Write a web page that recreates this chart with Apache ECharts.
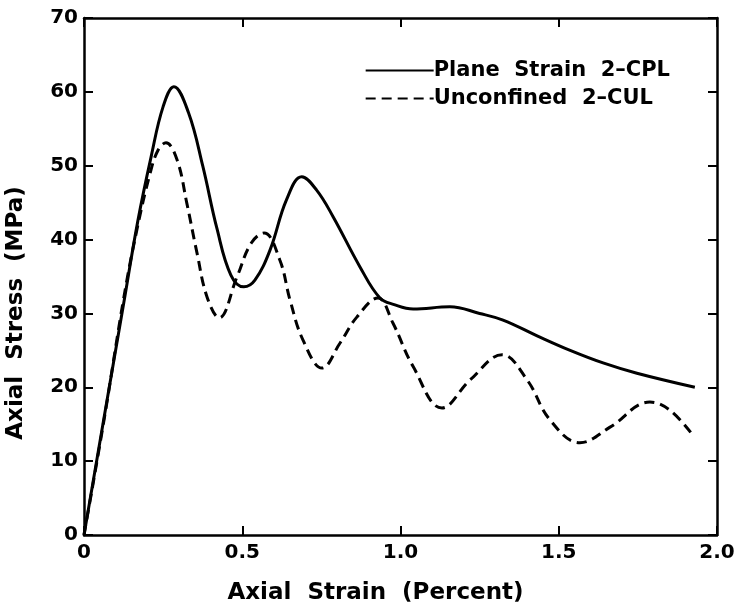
<!DOCTYPE html>
<html><head><meta charset="utf-8">
<script src="https://cdn.jsdelivr.net/npm/echarts@6/dist/echarts.min.js"></script>
<style>html,body{margin:0;padding:0;background:#fff}#c{width:738px;height:614px}</style>
</head><body><div id="c"></div>
<script>
var xTicks = [0, 0.5, 1.0, 1.5, 2.0];
var yTicks = [0, 10, 20, 30, 40, 50, 60, 70];
var planeX = [0, 0.063, 0.126, 0.17, 0.212, 0.25, 0.284, 0.33, 0.375, 0.42, 0.464, 0.505, 0.54, 0.588, 0.64, 0.688, 0.735, 0.787, 0.872, 0.935, 0.98, 1.04, 1.156, 1.25, 1.324, 1.43, 1.536, 1.64, 1.747, 1.93];
var planeY = [0, 15.8, 31.5, 42.5, 51.2, 58, 60.7, 57.2, 50, 41.5, 35.2, 33.6, 34.5, 38.6, 45.4, 48.5, 46.7, 43.1, 36.3, 32.1, 31.2, 30.6, 30.9, 30.0, 29.1, 27, 25.0, 23.3, 21.9, 20.0];
var unconfX = [0, 0.063, 0.126, 0.167, 0.209, 0.235, 0.259, 0.294, 0.325, 0.357, 0.389, 0.427, 0.483, 0.528, 0.569, 0.619, 0.651, 0.692, 0.752, 0.809, 0.862, 0.929, 0.976, 1.04, 1.131, 1.22, 1.321, 1.40, 1.472, 1.567, 1.662, 1.788, 1.851, 1.924];
var unconfY = [0, 15.5, 32.2, 41.3, 49, 52.2, 53.1, 50.8, 44.9, 38.2, 32.2, 29.4, 34.9, 39.5, 40.9, 37.2, 31.8, 26.4, 22.6, 26, 29.5, 32.1, 28.7, 22.8, 17.2, 21, 24.4, 21, 15.6, 12.5, 14.6, 18.0, 16.9, 13.5];
var names = ['Plane  Strain  2\u2013CPL', 'Unconfined  2\u2013CUL'];

function pairs(xs, ys){ return xs.map(function(x,i){return [x, ys[i]];}); }
var font = 'DejaVu Sans';
var axLine = {onZero:false, lineStyle:{color:'#000', width:2.5}};
var tick = {inside:true, length:9, lineStyle:{width:2, color:'#000'}};
var chart = echarts.init(document.getElementById('c'), null, {renderer:'canvas'});
chart.setOption({
  animation:false,
  backgroundColor:'#fff',
  grid:{left:84, right:21, top:18, bottom:79, containLabel:false, outerBoundsMode:'none'},
  legend:{
    top:55, right:63, orient:'vertical', itemWidth:68, itemHeight:14, itemGap:7, align:'left',
    itemStyle:{opacity:0},
    textStyle:{fontFamily:font, fontWeight:'bold', fontSize:21, color:'#000', padding:[0,0,0,-5]},
    data:[names[0], names[1]]
  },
  xAxis:[{
    type:'value', min:0, max:2, interval:0.5, position:'bottom',
    axisLine:axLine, axisTick:tick, splitLine:{show:false},
    axisLabel:{fontFamily:font, fontWeight:'bold', fontSize:20, color:'#000', margin:8,
      formatter:function(v){return v===0?'0':v.toFixed(1);}},
    name:'Axial  Strain  (Percent)', nameLocation:'middle', nameGap:47,
    nameTextStyle:{fontFamily:font, fontWeight:'bold', fontSize:23, color:'#000', padding:[0,50,0,0]}
  },{
    type:'value', min:0, max:2, interval:0.5, position:'top', show:true,
    axisLine:axLine, axisTick:tick, axisLabel:{show:false}, splitLine:{show:false}
  }],
  yAxis:[{
    type:'value', min:0, max:70, interval:10, position:'left',
    axisLine:axLine, axisTick:tick, splitLine:{show:false},
    axisLabel:{fontFamily:font, fontWeight:'bold', fontSize:20, color:'#000', margin:6},
    name:'Axial  Stress  (MPa)', nameLocation:'middle', nameGap:56, nameRotate:90,
    nameTextStyle:{fontFamily:font, fontWeight:'bold', fontSize:23, color:'#000', padding:[0,73,0,0]}
  },{
    type:'value', min:0, max:70, interval:10, position:'right', show:true,
    axisLine:axLine, axisTick:tick, axisLabel:{show:false}, splitLine:{show:false}
  }],
  series:[{
    name:names[0], type:'line', data:pairs(planeX, planeY), smooth:0.4, symbol:'none',
    lineStyle:{color:'#000', width:3, type:'solid'}, itemStyle:{color:'#000'}
  },{
    name:names[1], type:'line', data:pairs(unconfX, unconfY), smooth:0.4, symbol:'none',
    lineStyle:{color:'#000', width:3, type:[10,6]}, itemStyle:{color:'#000'}
  },{
    type:'line', xAxisIndex:1, yAxisIndex:1, data:[], symbol:'none', silent:true
  }]
});
</script></body></html>
